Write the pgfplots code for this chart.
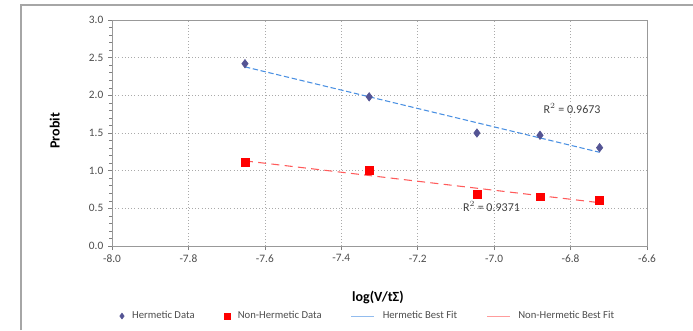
\documentclass[border=0pt]{standalone}
\usepackage{fontspec}
\setmainfont{Carlito}
\usepackage{pgfplots}
\pgfplotsset{compat=1.18}
\definecolor{hermpt}{HTML}{545494}
\definecolor{hermln}{HTML}{4A90E2}
\definecolor{nonln}{HTML}{FF5A5A}
\definecolor{gridc}{HTML}{AAAAAA}
\begin{document}
\begin{tikzpicture}
\useasboundingbox (0pt,0pt) rectangle (519.75pt,247.5pt);
\draw[gray!70, line width=1.5pt] (15.75pt,0pt) -- (15.75pt,243.75pt) -- (519.75pt,243.75pt);
\begin{axis}[
  at={(84pt,63pt)}, anchor=south west,
  width=401.25pt, height=169.5pt, scale only axis,
  xmin=-8.0, xmax=-6.6, ymin=0, ymax=3.0,
  xtick={-8.0,-7.8,...,-6.6},
  ytick={0,0.5,...,3.0},
  minor y tick num=4,
  xticklabel style={/pgf/number format/.cd,fixed,fixed zerofill,precision=1},
  yticklabel style={/pgf/number format/.cd,fixed,fixed zerofill,precision=1},
  /pgf/number format/assume math mode=true,
  ticklabel style={font=\fontsize{8.5}{10}\selectfont, text=black!70},
  tick align=outside,
  major tick length=3pt, minor tick length=2pt,
  tick style={gray, thin},
  axis line style={gray!80},
  grid=major,
  major grid style={gridc, dotted, thin},
  xtick pos=bottom, ytick pos=left,
  xlabel={\textbf{log(V/tΣ)}},
  ylabel={\textbf{Probit}},
  label style={font=\fontsize{10.5}{12}\selectfont},
  xlabel style={at={(axis description cs:0.497,-0.23)}, anchor=center},
  ylabel style={at={(axis description cs:-0.107,0.51)}, anchor=center},
  legend columns=4,
  legend style={at={(0.479,-0.31)}, anchor=center, draw=none, fill=none,
    font=\fontsize{8}{9}\selectfont, text=black!70,
    /tikz/every odd column/.append style={column sep=4pt},
    /tikz/every even column/.append style={column sep=20pt}},
  legend cell align=left,
]
\addplot[only marks, mark=diamond*, mark size=3.2pt, color=hermpt, forget plot]
  coordinates {(-7.652,2.42) (-7.327,1.98) (-7.045,1.50) (-6.880,1.47) (-6.724,1.305)};
\addlegendimage{only marks, mark=diamond*, mark size=2.2pt, color=hermpt}
\addlegendentry{Hermetic Data}
\addplot[only marks, mark=square*, mark size=2.9pt, color=red, forget plot]
  coordinates {(-7.652,1.11) (-7.327,1.01) (-7.045,0.69) (-6.880,0.655) (-6.724,0.61)};
\addlegendimage{only marks, mark=square*, mark size=2.2pt, color=red}
\addlegendentry{Non-Hermetic Data}
\addplot[hermln, line width=0.8pt, dash pattern=on 4pt off 2pt, forget plot]
  coordinates {(-7.652,2.378) (-6.724,1.244)};
\addlegendimage{hermln!60, line width=0.8pt}
\addlegendentry{Hermetic Best Fit}
\addplot[nonln, line width=0.8pt, dash pattern=on 6pt off 4pt, forget plot]
  coordinates {(-7.652,1.130) (-6.724,0.575)};
\addlegendimage{nonln!60, line width=0.8pt}
\addlegendentry{Non-Hermetic Best Fit}
\node[font=\fontsize{9}{10}\selectfont, text=black!75] at (axis cs:-6.796,1.82) {R$^2$ = 0.9673};
\node[font=\fontsize{9}{10}\selectfont, text=black!75] at (axis cs:-7.007,0.52) {R$^2$ = 0.9371};
\end{axis}
\end{tikzpicture}
\end{document}
